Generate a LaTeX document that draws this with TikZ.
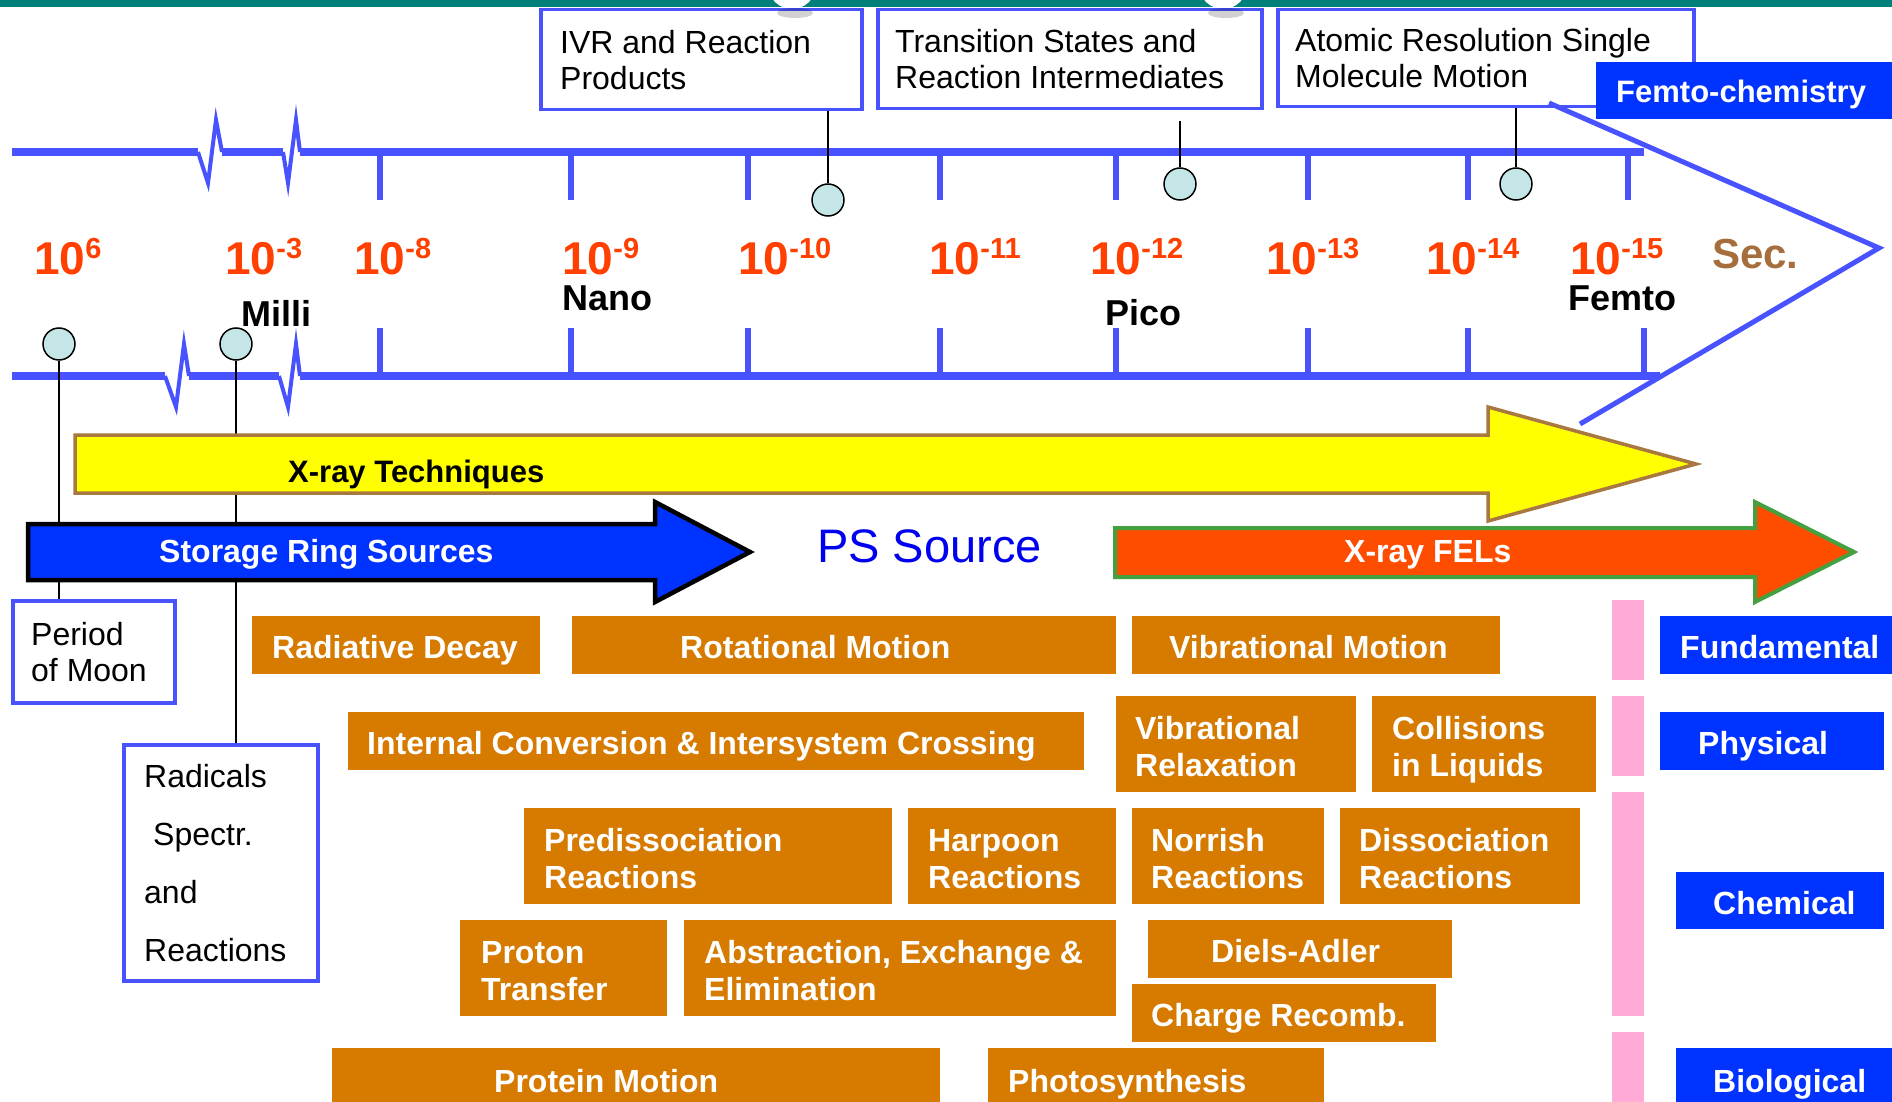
\documentclass[tikz,border=0pt]{standalone}
\usepackage{fontspec}
\setmainfont{Liberation Sans}
\usetikzlibrary{calc}
\definecolor{axisblue}{RGB}{72,82,255}
\definecolor{boxorange}{RGB}{214,122,0}
\definecolor{fillblue}{RGB}{0,51,255}
\definecolor{pinkbar}{RGB}{255,170,215}
\definecolor{expred}{RGB}{255,64,0}
\definecolor{pincyan}{RGB}{197,230,230}
\definecolor{bandteal}{RGB}{0,128,122}
\definecolor{xyellow}{RGB}{255,255,0}
\definecolor{xbrown}{RGB}{168,120,64}
\definecolor{felred}{RGB}{255,77,0}
\definecolor{felgreen}{RGB}{68,160,64}
\definecolor{secbrown}{RGB}{166,110,60}
\definecolor{psblue}{RGB}{0,0,240}
\newcommand{\fsz}[2]{\fontsize{#1}{#2}\selectfont}
\newcommand{\tenexp}[1]{\bfseries\fsz{46}{46}10\raisebox{16pt}{\fsz{29}{29}#1}}
% #1 box style, #2 name, #3 x1, #4 y1, #5 x2, #6 y2, #7 pad, #8 text style, #9 text
\newcommand{\bx}[9]{%
  \node[#1, minimum width={#5-#3}, minimum height={#6-#4}] (#2) at (#3,#4) {};
  \node[#8] (#2t) at ([xshift=#7]#2.west) {\rule{0pt}{31pt}#9\rule[-8pt]{0pt}{8pt}};
}
\begin{document}
\begin{tikzpicture}[x=1pt,y=-1pt,
  obox/.style={fill=boxorange, draw=none, inner sep=0pt, anchor=north west},
  bbox/.style={fill=fillblue, draw=none, inner sep=0pt, anchor=north west},
  nbox/.style={draw=axisblue, line width=3.5pt, fill=white, inner sep=0pt, anchor=north west},
  wtext/.style={text=white, font=\bfseries\fsz{32}{37}, inner sep=0pt, anchor=west, align=left, yshift=-2pt},
  ntext/.style={text=black, font=\fsz{32}{36}, inner sep=0pt, anchor=west, align=left},
  rtext/.style={text=black, font=\fsz{32}{58}, inner sep=0pt, anchor=west, align=left},
  pinnode/.style={circle, draw=black, line width=1.5pt, fill=pincyan, minimum size=32pt, inner sep=0pt},
  pinline/.style={line width=1.8pt, black},
  axisline/.style={axisblue, line width=8pt},
  tickline/.style={axisblue, line width=5.5pt},
  zigzag/.style={axisblue, line width=4pt, line join=miter},
  pinkb/.style={fill=pinkbar, inner sep=0pt, anchor=north west},
  expo/.style={text=expred, inner sep=0pt, anchor=base west},
  unitlbl/.style={font=\bfseries\fsz{36}{36}, inner sep=0pt, anchor=base west},
  arrtext/.style={font=\bfseries\fsz{32}{32}, inner sep=0pt, anchor=base west},
]
\useasboundingbox (0,0) rectangle (1892,1102);
\clip (0,0) rectangle (1892,1102);
\fill[white] (0,0) rectangle (1892,1102);

% top band
\fill[bandteal] (0,0) rectangle (1892,7);
\fill[white] (792,-15) circle (24);
\fill[white] (1223,-15) circle (24);

% upper axis
\draw[axisline] (12,152) -- (198,152);
\draw[zigzag] (198,152) -- (208,183) -- (216,120) -- (222,152);
\draw[axisline] (222,152) -- (283,152);
\draw[zigzag] (283,152) -- (288,183) -- (296,120) -- (300,152);
\draw[axisline] (300,152) -- (1644,152);
\foreach \x in {380,571,748,940,1116,1308,1468,1628}
  \draw[tickline] (\x,152) -- (\x,200);

% lower axis
\draw[axisline] (12,376) -- (165,376);
\draw[zigzag] (165,376) -- (176,407) -- (184,344) -- (189,376);
\draw[axisline] (189,376) -- (279,376);
\draw[zigzag] (279,376) -- (288,407) -- (296,344) -- (300,376);
\draw[axisline] (300,376) -- (1660,376);
\foreach \x in {380,571,748,940,1116,1308,1468,1644}
  \draw[tickline] (\x,376) -- (\x,328);

% top boxes
\bx{nbox}{ivr}{539}{8}{860}{108}{21}{ntext}{IVR and Reaction\\Products}
\bx{nbox}{trans}{876}{8}{1260}{107}{19}{ntext}{Transition States and\\Reaction Intermediates}
\bx{nbox}{atom}{1276}{8}{1692}{105}{19}{ntext}{Atomic Resolution Single\\Molecule Motion}

% chevron
\draw[axisblue, line width=5pt, line join=miter] (1549,103) -- (1879,248) -- (1580,424);

% femto-chemistry
\node[bbox, minimum width=296, minimum height=57] (femto) at (1596,62) {};
\node[text=white, font=\bfseries\fsz{31}{31}, inner sep=0pt, anchor=base west] (femtot) at (1616,103) {Femto-chemistry};

% exponent labels
\node[expo] (e6) at (34,274) {\tenexp{6}};
\node[expo] (e3) at (225,274) {\tenexp{-3}};
\node[expo] (e8) at (354,274) {\tenexp{-8}};
\node[expo] (e9) at (562,274) {\tenexp{-9}};
\node[expo] (e10) at (738,274) {\tenexp{-10}};
\node[expo] (e11) at (929,274) {\tenexp{-11}};
\node[expo] (e12) at (1090,274) {\tenexp{-12}};
\node[expo] (e13) at (1266,274) {\tenexp{-13}};
\node[expo] (e14) at (1426,274) {\tenexp{-14}};
\node[expo] (e15) at (1570,274) {\tenexp{-15}};
\node[text=secbrown, font=\bfseries\fsz{42}{42}, inner sep=0pt, anchor=base west] (sec) at (1712,268) {Sec.};

% unit labels
\node[unitlbl] (milli) at (241,326) {Milli};
\node[unitlbl] (nano) at (562,310) {Nano};
\node[unitlbl] (pico) at (1105,325) {Pico};
\node[unitlbl] (femtol) at (1568,310) {Femto};

% lower left boxes
\bx{nbox}{moon}{11}{599}{173}{701}{20}{ntext}{Period\\of Moon}
\bx{nbox}{radc}{122}{743}{316}{979}{22}{rtext}{Radicals\\\hspace*{9pt}Spectr.\\and\\Reactions}

% pins
\node[pinnode] (p1) at (828,200) {};
\node[pinnode] (p2) at (1180,184) {};
\node[pinnode] (p3) at (1516,184) {};
\node[pinnode] (p4) at (59,344) {};
\node[pinnode] (p5) at (236,344) {};
\coordinate (p2top) at (1180,121);
\draw[pinline] (p1 |- ivr.south) -- (p1.north);
\draw[pinline] (p2top) -- (p2.north);
\draw[pinline] (p3 |- atom.south) -- (p3.north);
\draw[pinline] (p4.south) -- (p4 |- moon.north);
\draw[pinline] (p5.south) -- (p5 |- radc.north);

% X-ray techniques arrow
\draw[fill=xyellow, draw=xbrown, line width=3.5pt, line join=miter]
  (75,435) -- (1488,435) -- (1488,407) -- (1696,464) -- (1488,521) -- (1488,493) -- (75,493) -- cycle;
\node[arrtext, text=black, font=\bfseries\fsz{31}{31}] (xrayt) at (288,482) {X-ray Techniques};

% storage ring arrow
\draw[fill=fillblue, draw=black, line width=4.5pt, line join=miter]
  (28,524) -- (655,524) -- (655,502) -- (750,552) -- (655,602) -- (655,580) -- (28,580) -- cycle;
\node[arrtext, text=white] (srst) at (159,562) {Storage Ring Sources};

% PS source
\node[font=\fsz{47}{47}, text=psblue, inner sep=0pt, anchor=base west] (ps) at (817,562) {PS Source};

% FEL arrow
\draw[fill=felred, draw=felgreen, line width=4pt, line join=miter]
  (1115,528) -- (1755,528) -- (1755,502) -- (1854,552) -- (1755,602) -- (1755,577) -- (1115,577) -- cycle;
\node[arrtext, text=white] (felt) at (1344,562) {X-ray FELs};

% pink bars
\node[pinkb, minimum width=32, minimum height=80] (pk1) at (1612,600) {};
\node[pinkb, minimum width=32, minimum height=80] (pk2) at (1612,696) {};
\node[pinkb, minimum width=32, minimum height=224] (pk3) at (1612,792) {};
\node[pinkb, minimum width=32, minimum height=80] (pk4) at (1612,1032) {};

% row 1
\bx{obox}{radd}{252}{616}{540}{674}{20}{wtext}{Radiative Decay}
\bx{obox}{rot}{572}{616}{1116}{674}{108}{wtext}{Rotational Motion}
\bx{obox}{vib}{1132}{616}{1500}{674}{37}{wtext}{Vibrational Motion}
\bx{bbox}{fund}{1660}{616}{1892}{674}{20}{wtext}{Fundamental}
% row 2
\bx{obox}{icx}{348}{712}{1084}{770}{19}{wtext}{Internal Conversion \& Intersystem Crossing}
\bx{obox}{vrel}{1116}{696}{1356}{792}{19}{wtext}{Vibrational\\Relaxation}
\bx{obox}{coll}{1372}{696}{1596}{792}{20}{wtext}{Collisions\\in Liquids}
\bx{bbox}{phys}{1660}{712}{1884}{770}{38}{wtext}{Physical}
% row 3
\bx{obox}{pred}{524}{808}{892}{904}{20}{wtext}{Predissociation\\Reactions}
\bx{obox}{harp}{908}{808}{1116}{904}{20}{wtext}{Harpoon\\Reactions}
\bx{obox}{norr}{1132}{808}{1324}{904}{19}{wtext}{Norrish\\Reactions}
\bx{obox}{diss}{1340}{808}{1580}{904}{19}{wtext}{Dissociation\\Reactions}
\bx{bbox}{chem}{1676}{872}{1884}{929}{37}{wtext}{Chemical}
% row 4
\bx{obox}{prot}{460}{920}{667}{1016}{21}{wtext}{Proton\\Transfer}
\bx{obox}{abst}{684}{920}{1116}{1016}{20}{wtext}{Abstraction, Exchange \&\\Elimination}
\bx{obox}{diel}{1148}{920}{1452}{978}{63}{wtext}{Diels-Adler}
\bx{obox}{chrg}{1132}{984}{1436}{1042}{19}{wtext}{Charge Recomb.}
% row 5
\bx{obox}{protm}{332}{1048}{940}{1110}{162}{wtext}{Protein Motion}
\bx{obox}{phot}{988}{1048}{1324}{1110}{20}{wtext}{Photosynthesis}
\bx{bbox}{bio}{1676}{1048}{1892}{1110}{37}{wtext}{Biological}

% faint shadows of top shapes
\fill[black, opacity=0.18] (795,13) ellipse [x radius=18, y radius=5];
\fill[black, opacity=0.18] (1226,13) ellipse [x radius=18, y radius=5];
\end{tikzpicture}
\end{document}
